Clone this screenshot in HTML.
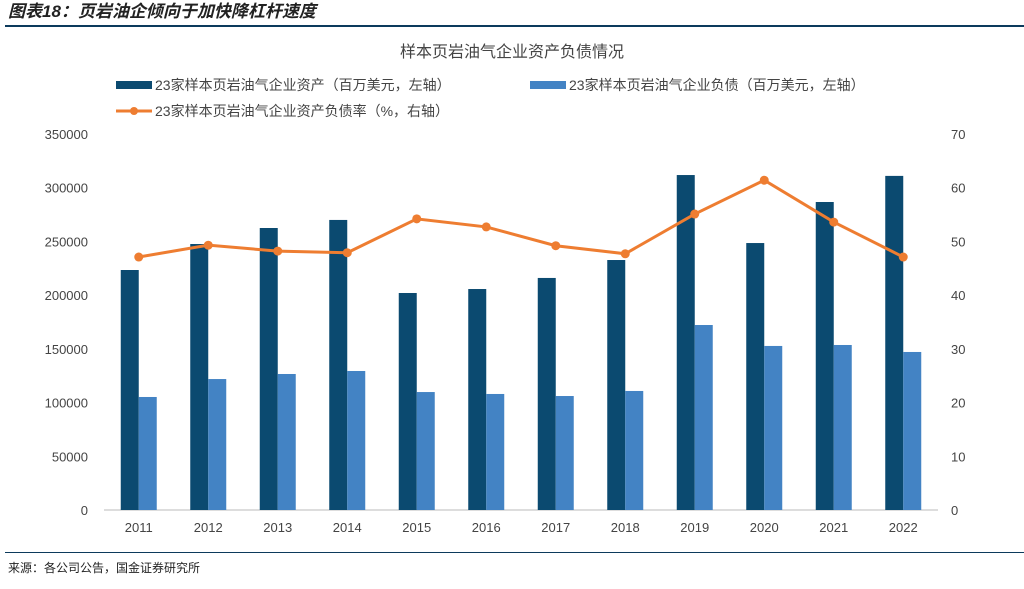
<!DOCTYPE html>
<html><head><meta charset="utf-8"><style>
body{margin:0;background:#fff;width:1024px;height:584px;overflow:hidden;font-family:"Liberation Sans","Noto Sans CJK SC",sans-serif}
</style></head><body>
<svg id="c" width="1024" height="584" xmlns="http://www.w3.org/2000/svg">
<text x="8" y="17" font-size="17" font-weight="bold" font-style="italic" fill="#222" font-family="Liberation Sans,Noto Sans CJK SC,sans-serif">图表18：页岩油企倾向于加快降杠杆速度</text>
<rect x="5" y="25" width="1019" height="2" fill="#0c3a5c"/>
<text x="512" y="57" font-size="16" text-anchor="middle" fill="#444">样本页岩油气企业资产负债情况</text>
<g font-size="14" fill="#444">
<rect x="116" y="81" width="36" height="8" fill="#0b4a70"/>
<text x="155" y="90">23家样本页岩油气企业资产（百万美元，左轴）</text>
<rect x="530" y="81" width="36" height="8" fill="#4383c4"/>
<text x="569" y="90">23家样本页岩油气企业负债（百万美元，左轴）</text>
<line x1="116" y1="111" x2="152" y2="111" stroke="#ee7d31" stroke-width="3"/>
<circle cx="134" cy="111" r="4" fill="#ee7d31"/>
<text x="155" y="116">23家样本页岩油气企业资产负债率（%，右轴）</text>
</g>
<g id="plot"></g>
<rect x="5" y="552" width="1019" height="1" fill="#0c3a5c"/>
<text x="8" y="572" font-size="12" fill="#222">来源：各公司公告，国金证券研究所</text>
</svg>
<script>
const years=['2011','2012','2013','2014','2015','2016','2017','2018','2019','2020','2021','2022'];
const assets=[223400,247600,262500,270000,202000,205700,216000,232700,311800,248500,286700,311000];
const liabilities=[105200,121900,126600,129400,109800,108000,106100,110800,172200,152700,153600,147100];
const ratio=[47.1,49.3,48.2,47.9,54.2,52.7,49.2,47.7,55.1,61.4,53.6,47.1];
const leftTicks=[0,50000,100000,150000,200000,250000,300000,350000];
const rightTicks=[0,10,20,30,40,50,60,70];
const NS='http://www.w3.org/2000/svg';
const g=document.getElementById('plot');
const x0=104,x1=938,yb=510,yt=134;
const step=(x1-x0)/years.length;
const xc=i=>x0+step*(i+0.5);
const yL=v=>yb-(v/350000)*(yb-yt);
const yR=v=>yb-(v/70)*(yb-yt);
function mk(t,a){const e=document.createElementNS(NS,t);for(const k in a)e.setAttribute(k,a[k]);g.appendChild(e);return e;}
leftTicks.forEach(v=>{const e=mk('text',{x:88,y:yL(v)+5,'font-size':13,'text-anchor':'end',fill:'#444'});e.textContent=v;

});
rightTicks.forEach(v=>{const e=mk('text',{x:951,y:yR(v)+5,'font-size':13,fill:'#444'});e.textContent=v;

});
const ax=mk('line',{x1:x0,y1:yb,x2:x1,y2:yb,stroke:'#bbb','stroke-width':1});


years.forEach((y,i)=>{
 const c=xc(i);
 const b1=mk('rect',{x:c-18,y:yL(assets[i]),width:18,height:yb-yL(assets[i]),fill:'#0b4a70'});
 
 
 const b2=mk('rect',{x:c,y:yL(liabilities[i]),width:18,height:yb-yL(liabilities[i]),fill:'#4383c4'});
 
 
 const t=mk('text',{x:c,y:532,'font-size':13,'text-anchor':'middle',fill:'#444'});t.textContent=y;
 
 
});
const ln=mk('polyline',{points:ratio.map((v,i)=>xc(i)+','+yR(v)).join(' '),fill:'none',stroke:'#ee7d31','stroke-width':3});


ratio.forEach((v,i)=>{const p=mk('circle',{cx:xc(i),cy:yR(v),r:4.5,fill:'#ee7d31'});

});
</script>
</body></html>
